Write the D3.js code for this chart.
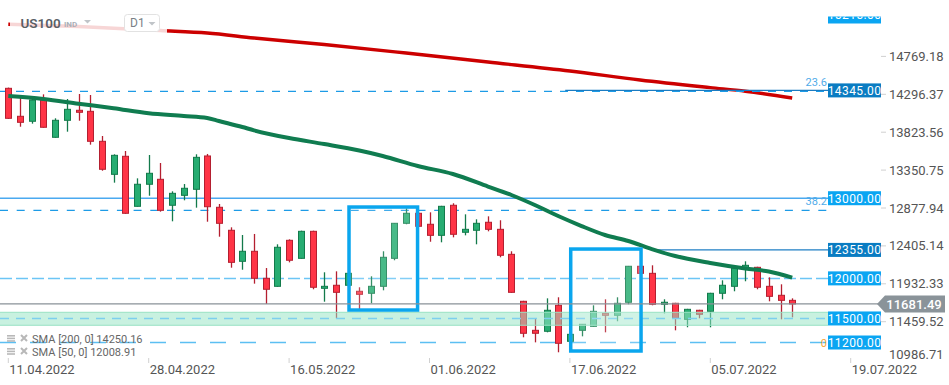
<!DOCTYPE html>
<html><head><meta charset="utf-8">
<script src="https://cdn.jsdelivr.net/npm/d3@7"></script>
<style>body{margin:0;background:#fff;overflow:hidden}svg{display:block;font-family:Roboto,"Noto Sans",sans-serif}</style>
</head><body><svg id="c" width="949" height="385"></svg>
<script>
// ---- data ----
const dateLabels = ["11.04.2022","28.04.2022","16.05.2022","01.06.2022","17.06.2022","05.07.2022","19.07.2022"];
const dateIdx = [0,12,24,36,48,60,72];
const priceTicks = [14769.18,14296.37,13823.56,13350.75,12877.94,12405.14,11932.33,11459.52,10986.71];

const open  = [14371,14022,13960,14225,13760,13972,14097,14084,13710,13298,13523,12899,13174,13236,12912,13036,13111,13527,12887,12600,12213,12338,12001,11901,12475,12250,12587,11876,11914,11914,11839,11814,11901,12250,12687,12812,12675,12537,12912,12575,12600,12700,12612,12300,11714,11352,11340,11664,11215,11352,11402,11564,11539,11702,12151,12063,11677,11689,11489,11602,11589,11814,11901,12126,12138,11901,11789,11726];
const high  = [14380,14288,14266,14296,13997,14238,14300,14288,13776,13548,13589,13248,13539,13439,13086,13177,13548,13552,12928,12637,12541,12554,12129,12425,12487,12595,12595,12076,12088,12070,11889,12026,12338,12690,12874,12825,12824,12905,12937,12799,12737,12774,12725,12338,11720,11502,11751,11764,11310,11430,11664,11739,11764,12155,12160,12163,11739,11695,11620,11608,11820,11976,12163,12213,12145,12013,11926,11751];
const low   = [13990,13892,13930,13880,13755,13830,13967,13668,13343,13194,12805,12895,13031,12832,12712,12974,12882,12707,12520,12133,12108,11934,11680,11895,12200,12245,11864,11709,11502,11908,11605,11689,11851,12226,12675,12645,12457,12450,12512,12537,12425,12587,12263,11820,11265,11202,11327,11078,11208,11277,11398,11327,11465,11677,12058,11664,11564,11352,11390,11502,11390,11739,11839,11964,11864,11714,11489,11514];
const close = [13997,13947,14225,13885,13972,14109,14072,13710,13361,13535,12812,13174,13311,12849,13061,13124,13510,12894,12687,12200,12338,12001,11864,12388,12226,12587,11889,11901,11826,12063,11801,11901,12263,12687,12812,12650,12537,12899,12550,12612,12687,12612,12288,11826,11315,11315,11602,11190,11302,11427,11589,11539,11689,12151,12063,11677,11702,11502,11614,11552,11814,11914,12126,12163,11889,11776,11726,11681.49];

const sma50Idx = [0,3,6,9,12,15,17,18,20,21,24,27,30,32,35,38,41,43,45,47,49,51,53,55,57,60,63,65,67];
const sma50Val = [14275,14238,14179,14122,14059,14026,14001,13963,13888,13847,13751,13676,13595,13527,13402,13302,13146,13040,12915,12778,12653,12541,12466,12366,12279,12192,12123,12086,12008.91];
const sma200Idx = [0,6,13,17,21,27,34,41,48,54,60,63,67];
const sma200Val = [15170,15142,15092,15061,14999,14918,14811,14699,14587,14475,14380,14335,14250.16];

const levelPrices = [14345,13000,12355,12000,11500,11200];
const levelLabels = ["14345.00","13000.00","12355.00","12000.00","11500.00","11200.00"];
const lastPrice = 11681.49;
const fibLevels = [14334,12848];
const fibLabels = ["23.6","38.2"];
const zoneLow = 11415, zoneHigh = 11577;
const boxIdx0 = [29.12,48.07], boxIdx1 = [34.98,54.08];
const boxHi = [12890,12366], boxLo = [11605,11094];

// ---- scales ----
const svg = d3.select("#c");
const x = d3.scaleLinear().domain([0,72]).range([8.3,850.7]);
const y = d3.scaleLinear().domain([11459.52,14769.18]).range([321.7,56.4]);
const plotR = 828;

const lineGen = d3.line().curve(d3.curveMonotoneX);
svg.append("path").attr("d", lineGen(sma200Idx.map((d,i)=>[x(d),y(sma200Val[i])])))
  .attr("fill","none").attr("stroke","#cc0000").attr("stroke-width",3.4);

// ---- horizontal levels ----
const g = svg.append("g");
g.append("line").attr("x1",0).attr("x2",plotR).attr("y1",y(fibLevels[0])).attr("y2",y(fibLevels[0]))
  .attr("stroke","#1d9be6").attr("stroke-width",1.3).attr("stroke-dasharray","8,8");
g.append("line").attr("x1",x(47.6)).attr("x2",plotR).attr("y1",y(14345)).attr("y2",y(14345))
  .attr("stroke","#1a7cc2").attr("stroke-width",1.1);
g.append("line").attr("x1",0).attr("x2",plotR).attr("y1",y(13000)).attr("y2",y(13000))
  .attr("stroke","#4aa9f0").attr("stroke-width",1.6);
g.append("line").attr("x1",0).attr("x2",plotR).attr("y1",y(fibLevels[1])).attr("y2",y(fibLevels[1]))
  .attr("stroke","#1d9be6").attr("stroke-width",1.3).attr("stroke-dasharray","8,8.7");
g.append("line").attr("x1",x(55.3)).attr("x2",plotR).attr("y1",y(12355)).attr("y2",y(12355))
  .attr("stroke","#1f7fc4").attr("stroke-width",1.1);
g.append("line").attr("x1",0).attr("x2",plotR).attr("y1",y(12000)).attr("y2",y(12000))
  .attr("stroke","#6cc5f5").attr("stroke-width",1.5).attr("stroke-dasharray","12,4");
g.append("line").attr("x1",0).attr("x2",plotR).attr("y1",y(11200)).attr("y2",y(11200))
  .attr("stroke","#5cbff2").attr("stroke-width",1.5).attr("stroke-dasharray","16,14");

// ---- candles ----
const cg = svg.append("g");
open.forEach((o,i)=>{
  const c = close[i], up = c >= o;
  const fill = up ? "#27ad72" : "#ff3446", stroke = up ? "#137a4b" : "#b41f30";
  const cx = Math.round(x(i))+0.5;
  cg.append("line").attr("x1",cx).attr("x2",cx).attr("y1",y(high[i])).attr("y2",y(low[i]))
    .attr("stroke",stroke).attr("stroke-width",1.3);
  const top = y(Math.max(o,c)), bot = y(Math.min(o,c));
  cg.append("rect").attr("x",cx-3).attr("y",top).attr("width",6).attr("height",Math.max(1.5,bot-top))
    .attr("fill",fill).attr("stroke",stroke).attr("stroke-width",1);
});

// ---- SMA50 ----
svg.append("path").attr("d", lineGen(sma50Idx.map((d,i)=>[x(d),y(sma50Val[i])])))
  .attr("fill","none").attr("stroke","#107c50").attr("stroke-width",4);

// ---- green zone ----
svg.append("rect").attr("x",0).attr("y",y(zoneHigh)).attr("width",plotR).attr("height",y(zoneLow)-y(zoneHigh))
  .attr("fill","rgb(150,228,196)").attr("fill-opacity",0.52);
svg.append("line").attr("x1",0).attr("x2",plotR).attr("y1",y(zoneHigh)).attr("y2",y(zoneHigh)).attr("stroke","#98e2c4").attr("stroke-width",1);
svg.append("line").attr("x1",0).attr("x2",plotR).attr("y1",y(zoneLow)).attr("y2",y(zoneLow)).attr("stroke","#98e2c4").attr("stroke-width",1);
svg.append("line").attr("x1",0).attr("x2",plotR).attr("y1",y(11500)).attr("y2",y(11500))
  .attr("stroke","#7dcfee").attr("stroke-width",1.5).attr("stroke-dasharray","9,7");

// ---- highlight boxes ----
boxIdx0.forEach((b,i)=>{
  svg.append("rect").attr("x",x(b)).attr("y",y(boxHi[i])).attr("width",x(boxIdx1[i])-x(b))
    .attr("height",y(boxLo[i])-y(boxHi[i])).attr("fill","#fff").attr("fill-opacity",0.16)
    .attr("stroke","#0aa6ee").attr("stroke-width",3.5);
});

// ---- current price line ----
svg.append("line").attr("x1",0).attr("x2",878).attr("y1",y(lastPrice)).attr("y2",y(lastPrice))
  .attr("stroke","#8a9298").attr("stroke-width",1.4);

// ---- fib labels ----
fibLevels.forEach((f,i)=>{
  svg.append("text").attr("x",827).attr("y",y(f)-5).attr("text-anchor","end")
    .attr("font-size",11).attr("fill","#4fabe9").text(fibLabels[i]);
});
svg.append("text").attr("x",827).attr("y",y(11200)+4).attr("text-anchor","end").attr("font-size",11).attr("fill","#f5a53a").text("0");

// ---- level label boxes ----
const dark = {"14345.00":1,"12355.00":1};
levelPrices.forEach((p,i)=>{
  const yy = y(p);
  svg.append("rect").attr("x",828).attr("y",yy-7).attr("width",53).attr("height",14)
    .attr("fill", dark[levelLabels[i]] ? "#0a7cc2" : "#0aa5f2");
  svg.append("text").attr("x",854.5).attr("y",yy+4.3).attr("text-anchor","middle")
    .attr("font-size",12).attr("fill","#fff").attr("letter-spacing",0.4).text(levelLabels[i]);
});
// clipped top label
svg.append("clipPath").attr("id","tc").append("rect").attr("x",828).attr("y",16.6).attr("width",53).attr("height",6.8);
const tg = svg.append("g").attr("clip-path","url(#tc)");
tg.append("rect").attr("x",828).attr("y",10).attr("width",53).attr("height",14).attr("fill","#0aa5f2");
tg.append("text").attr("x",854.5).attr("y",18.6).attr("text-anchor","middle").attr("font-size",12)
  .attr("fill","#fff").attr("letter-spacing",0.4).text("15215.00");

// current price tag
const ly = y(lastPrice);
svg.append("path").attr("d",`M877,${ly} L885,${ly-8.5} L945,${ly-8.5} L945,${ly+8.5} L885,${ly+8.5} Z`).attr("fill","#8a9399");
svg.append("text").attr("x",914).attr("y",ly+4.6).attr("text-anchor","middle").attr("font-size",13)
  .attr("fill","#fff").attr("font-weight",500).text("11681.49");

// ---- right axis ----
const ra = svg.append("g");
priceTicks.forEach((p,i)=>{
  const last = i === priceTicks.length-1;
  const yy = last ? y(p)-5 : y(p);
  if(!last) ra.append("line").attr("x1",881).attr("x2",886).attr("y1",y(p)).attr("y2",y(p)).attr("stroke","#d0d0d0");
  ra.append("text").attr("x",889).attr("y",yy+4.6).attr("font-size",13).attr("fill","#555").text(p.toFixed(2));
});

// ---- x axis ----
const xa = svg.append("g");
dateIdx.forEach((d,i)=>{
  const xx = x(d);
  xa.append("line").attr("x1",xx).attr("x2",xx).attr("y1",358).attr("y2",363).attr("stroke","#d0d0d0");
  xa.append("text").attr("x",xx+1).attr("y",373.5).attr("font-size",13).attr("fill","#555").text(dateLabels[i]);
});

// ---- header ----
svg.append("rect").attr("x",10).attr("y",8).attr("width",157).attr("height",32).attr("fill","#fff").attr("fill-opacity",0.84);
svg.append("text").attr("x",20.5).attr("y",27.5).attr("font-size",13.5).attr("font-weight",600).attr("fill","#5a5f66").text("US100");
svg.append("text").attr("x",64).attr("y",26.8).attr("font-size",8).attr("font-weight",700).attr("fill","#aab0b8").text("IND");
svg.append("path").attr("d","M84,20 L91,20 L87.5,23.5 Z").attr("fill","#c0c4c8");
svg.append("rect").attr("x",124.5).attr("y",14.5).attr("width",35).attr("height",17).attr("rx",3)
  .attr("fill","#fff").attr("stroke","#e2e2e2");
svg.append("text").attr("x",130).attr("y",27).attr("font-size",12).attr("fill","#7a7f86").text("D1");
svg.append("path").attr("d","M148.5,22 L155.5,22 L152,25.5 Z").attr("fill","#c0c4c8");

// ---- legend ----
const legTexts = ["SMA  [200,  0]  14250.16","SMA  [50,  0]  12008.91"];
[343,356].forEach((by,i)=>{
  const iy = by-8;
  [0,2.6,5.2].forEach(o=>svg.append("rect").attr("x",7).attr("y",iy+o).attr("width",8).attr("height",1.6).attr("fill","#b8b8b8"));
  svg.append("path").attr("d",`M21,${iy} L27,${iy+6} M27,${iy} L21,${iy+6}`).attr("stroke","#b8b8b8").attr("stroke-width",2);
  svg.append("text").attr("x",32).attr("y",by).attr("font-size",11).attr("fill","#666").text(legTexts[i]);
});
</script></body></html>
